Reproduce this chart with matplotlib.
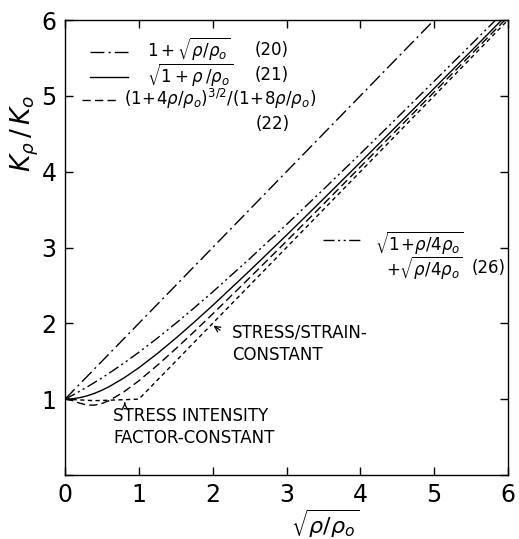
import matplotlib
matplotlib.use("Agg")
import matplotlib.pyplot as plt

plt.rcParams['font.family'] = ['DejaVu Sans']
plt.rcParams['mathtext.fontset'] = 'dejavusans'

# x = sqrt(rho/rho_o)
x_eq20 = [0.0, 5.0]
y_eq20 = [1.0, 6.0]

x_vals = [0.0, 0.1, 0.2, 0.3, 0.4, 0.5, 0.6, 0.8, 1.0, 1.25, 1.5, 1.75,
          2.0, 2.5, 3.0, 3.5, 4.0, 4.5, 5.0, 5.5, 6.0]
y_eq21 = [1.000, 1.005, 1.020, 1.044, 1.077, 1.118, 1.166, 1.281, 1.414, 1.601,
          1.803, 2.016, 2.236, 2.693, 3.162, 3.640, 4.123, 4.610, 5.099, 5.590, 6.083]
y_eq22 = [1.000, 0.982, 0.947, 0.922, 0.921, 0.943, 0.982, 1.098, 1.242, 1.446,
          1.664, 1.891, 2.124, 2.600, 3.083, 3.571, 4.062, 4.556, 5.050, 5.545, 6.042]
y_eq26 = [1.000, 1.051, 1.105, 1.161, 1.220, 1.281, 1.344, 1.477, 1.618, 1.804,
          2.000, 2.204, 2.414, 2.851, 3.303, 3.766, 4.236, 4.712, 5.193, 5.676, 6.162]

# stress intensity factor constant
x_sif = [0.0, 0.4, 1.0, 6.0]
y_sif = [1.0, 0.98, 1.0, 6.0]

W, H = 519, 539
fig = plt.figure(figsize=(W / 100, H / 100), dpi=100)
ax = fig.add_axes([65 / W, 1 - 475 / H, 443 / W, 455 / H])

s20 = (0, (10, 3, 1.5, 3))
s26 = (0, (8, 2.5, 1.5, 2.5, 1.5, 2.5))
s22 = (0, (6, 3))
ssif = (0, (3, 2.5))
lw = 1.0

ax.plot(x_eq20, y_eq20, color='k', lw=lw, linestyle=s20)
ax.plot(x_vals, y_eq26, color='k', lw=lw, linestyle=s26)
ax.plot(x_vals, y_eq21, color='k', lw=lw)
ax.plot(x_vals, y_eq22, color='k', lw=lw, linestyle=s22)
ax.plot(x_sif, y_sif, color='k', lw=lw, linestyle=ssif)

ax.set_xlim(0, 6)
ax.set_ylim(0, 6)
ax.set_xticks([0, 1, 2, 3, 4, 5, 6])
ax.set_yticks([0, 1, 2, 3, 4, 5, 6])
ax.set_yticklabels(['', '1', '2', '3', '4', '5', '6'])
ax.tick_params(direction='in', top=True, right=True, length=6, width=1,
               labelsize=17, pad=6)
for sp in ax.spines.values():
    sp.set_linewidth(1.0)


def ftext(px, py, s, **kw):
    fig.text(px / W, 1 - py / H, s, **kw)


def fline(x0, x1, py, ls):
    ax.plot([x0 / W, x1 / W], [1 - py / H, 1 - py / H], color='k', lw=lw,
            linestyle=ls, transform=fig.transFigure, clip_on=False)


# legend
fs = 12
fline(90, 128, 52, s20)
ftext(147, 49, r'$1+\sqrt{\rho/\rho_o}$', fontsize=fs, va='center')
ftext(255, 50, '(20)', fontsize=fs, va='center')
fline(90, 128, 77, '-')
ftext(147, 75, r'$\sqrt{1+\rho\,/\rho_o}$', fontsize=fs, va='center')
ftext(255, 75, '(21)', fontsize=fs, va='center')
fline(82, 118, 100, s22)
ftext(124, 99, r'$(1\!+\!4\rho/\rho_o)^{3/2}/(1\!+\!8\rho/\rho_o)$', fontsize=fs, va='center')
ftext(256, 124, '(22)', fontsize=fs, va='center')
fline(323, 362, 240, s26)
ftext(375, 243, r'$\sqrt{1\!+\!\rho/4\rho_o}$', fontsize=fs, va='center')
ftext(386, 268, r'$+\sqrt{\rho/4\rho_o}$', fontsize=fs, va='center')
ftext(472, 268, '(26)', fontsize=fs, va='center')

# annotations
ax.text(2.26, 1.73, 'STRESS/STRAIN-\nCONSTANT', fontsize=12, va='center',
        ha='left', linespacing=1.3)
ax.annotate('', xy=(1.98, 1.99), xytext=(2.13, 1.89),
            arrowprops=dict(arrowstyle='->', color='k', lw=0.9))
ax.text(0.65, 0.63, 'STRESS INTENSITY\nFACTOR-CONSTANT', fontsize=12,
        va='center', ha='left', linespacing=1.3)
ax.annotate('', xy=(0.81, 0.99), xytext=(0.81, 0.91),
            arrowprops=dict(arrowstyle='->', color='k', lw=0.9))

# axis labels
ftext(25, 134, r'$K_\rho\,/\,K_o$', fontsize=19, rotation=90,
      ha='center', va='center')
ftext(325, 524, r'$\sqrt{\rho/\rho_o}$', fontsize=16, ha='center', va='center')

fig.savefig('out.png', dpi=100)
